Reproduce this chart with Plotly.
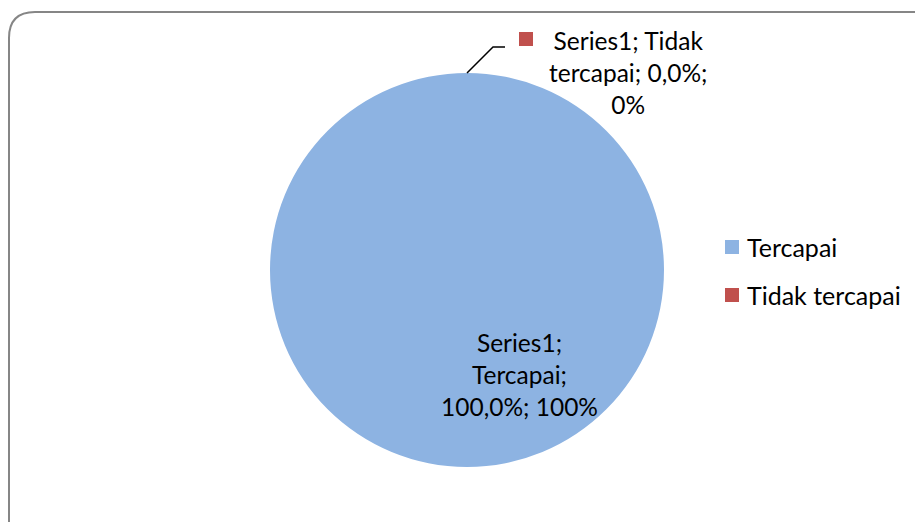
import plotly.graph_objects as go

# ---- data ----
series_name = "Series1"
categories = ["Tercapai", "Tidak tercapai"]
values = [1.0, 0.0]
colors = ["#8DB3E2", "#C0504D"]

W, H = 915, 522
FONT = "Lato, 'Open Sans', sans-serif"

def px_x(x):
    return x / W

def px_y(y):
    return 1 - y / H

# pie geometry (pixels)
cx, cy, r = 467, 270, 197

total = sum(values)
pcts = [v / total * 100 for v in values]

fig = go.Figure()
fig.add_trace(go.Pie(
    labels=categories,
    values=values,
    sort=False,
    direction="clockwise",
    rotation=90,
    marker=dict(colors=colors, line=dict(width=0)),
    textinfo="none",
    hoverinfo="label+percent",
    showlegend=False,
    domain=dict(x=[px_x(cx - r), px_x(cx + r)], y=[px_y(cy + r), px_y(cy - r)]),
))

# data labels
lab0 = (f"{series_name};<br>{categories[0]};<br>"
        + f"{pcts[0]:.1f}".replace(".", ",") + f"%; {values[0]*100:.0f}%")
w1, w2 = categories[1].split(" ", 1)
lab1 = (f"{series_name}; {w1}<br>{w2}; "
        + f"{pcts[1]:.1f}".replace(".", ",") + f"%;<br>{values[1]*100:.0f}%")

annotations = [
    dict(x=px_x(519), y=px_y(374), xref="paper", yref="paper", text=lab0,
         showarrow=False, xanchor="center", yanchor="middle", align="center",
         font=dict(family=FONT, size=24.5, color="#000000")),
    dict(x=px_x(628), y=px_y(72), xref="paper", yref="paper", text=lab1,
         showarrow=False, xanchor="center", yanchor="middle", align="center",
         font=dict(family=FONT, size=24.5, color="#000000")),
]

shapes = []
# border (rounded, cropped on right/bottom)
rad = 26
bx0, by0 = 9, 12
path = (f"M {px_x(bx0)},{px_y(H + 10)} L {px_x(bx0)},{px_y(by0 + rad)} "
        f"Q {px_x(bx0)},{px_y(by0)} {px_x(bx0 + rad)},{px_y(by0)} "
        f"L {px_x(W + 10)},{px_y(by0)}")
shapes.append(dict(type="path", path=path, xref="paper", yref="paper",
                   line=dict(color="#868686", width=2), layer="below"))

# leader line from top of pie to label
lx0, ly0 = cx, cy - r
shapes.append(dict(type="path", xref="paper", yref="paper",
                   path=(f"M {px_x(lx0)},{px_y(ly0)} L {px_x(lx0 + 26)},{px_y(ly0 - 26)} "
                         f"L {px_x(lx0 + 38)},{px_y(ly0 - 26)}"),
                   line=dict(color="#000000", width=1.5)))
# marker square for label
shapes.append(dict(type="rect", xref="paper", yref="paper",
                   x0=px_x(519), x1=px_x(533), y0=px_y(46), y1=px_y(32),
                   fillcolor=colors[1], line=dict(width=0)))

# legend
leg_y = [247, 295]
for cat, col, ly in zip(categories, colors, leg_y):
    shapes.append(dict(type="rect", xref="paper", yref="paper",
                       x0=px_x(725), x1=px_x(739), y0=px_y(ly + 7), y1=px_y(ly - 7),
                       fillcolor=col, line=dict(width=0)))
    annotations.append(dict(x=px_x(745), y=px_y(ly), xref="paper", yref="paper",
                            text=cat, showarrow=False, xanchor="left", yanchor="middle",
                            font=dict(family=FONT, size=25, color="#000000")))

fig.update_layout(
    width=W, height=H,
    margin=dict(l=0, r=0, t=0, b=0),
    paper_bgcolor="#FFFFFF",
    plot_bgcolor="#FFFFFF",
    showlegend=False,
    annotations=annotations,
    shapes=shapes,
)

fig.write_html("out.html",
               config={"displayModeBar": False},
               post_script="document.body.style.margin='0';document.body.style.overflow='hidden';")
